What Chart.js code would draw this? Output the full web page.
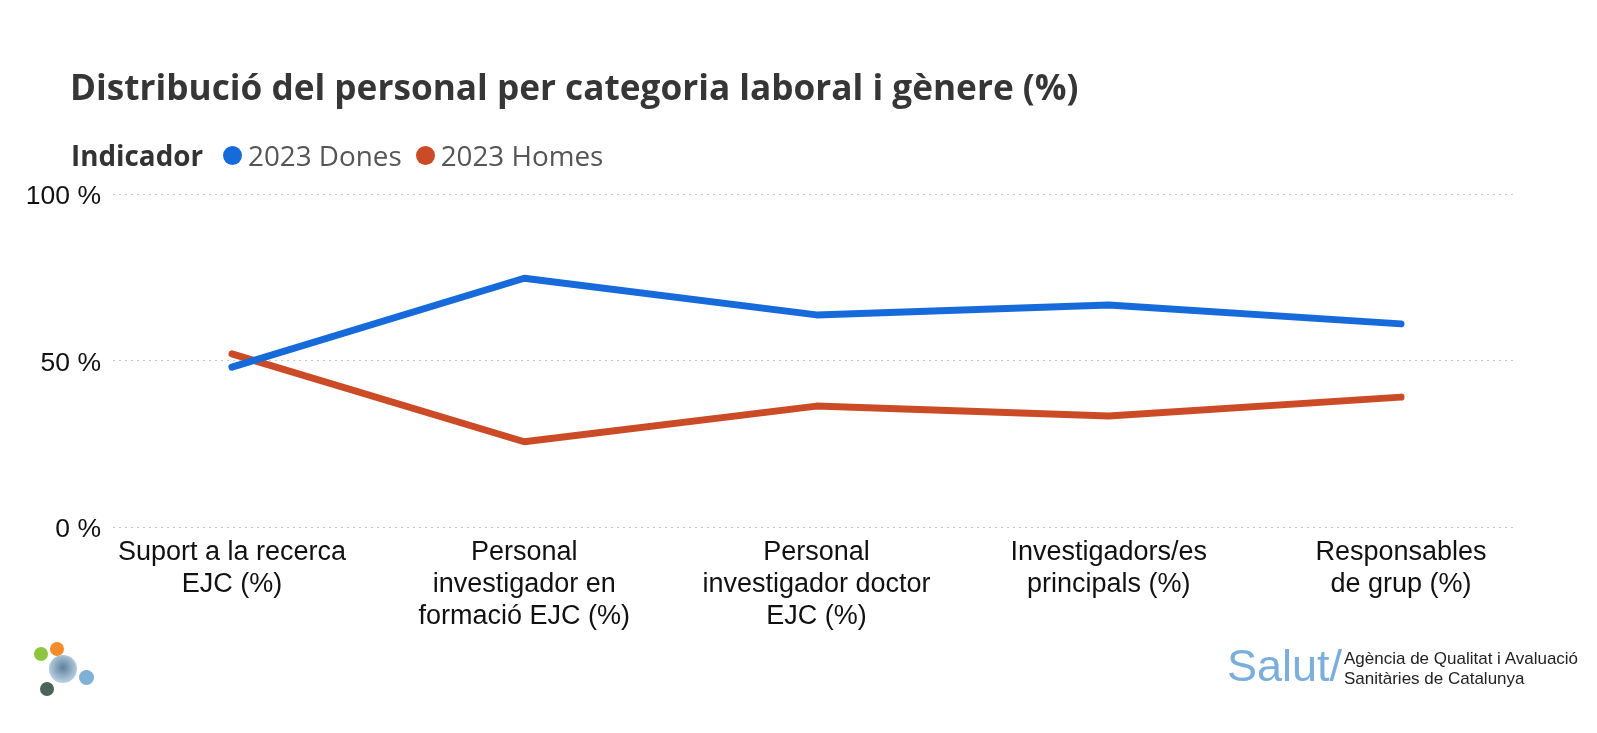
<!DOCTYPE html>
<html lang="ca">
<head>
    <meta charset="UTF-8">
    <title>Distribució del personal</title>
    <style>
        html, body {
            margin: 0;
            padding: 0;
            background: #fff;
        }
        .page {
            position: relative;
            width: 1597px;
            height: 733px;
            overflow: hidden;
        }
        .chart-box {
            position: absolute;
            left: 0;
            top: 0;
            width: 1597px;
            height: 733px;
        }
        h1 {
            position: absolute;
            left: 70px;
            top: 66px;
            margin: 0;
            font-family: 'Open Sans', sans-serif;
            font-weight: 700;
            font-size: 35.2px;
            line-height: 40px;
            color: #363636;
            white-space: nowrap;
        }
        .legend {
            position: absolute;
            left: 71px;
            top: 138px;
            display: flex;
            align-items: center;
            font-family: 'Open Sans', sans-serif;
            font-size: 27.8px;
            line-height: 34px;
            color: #555;
            white-space: nowrap;
        }
        .legend b {
            color: #333;
            margin-right: 20px;
        }
        .legend .dot {
            display: inline-block;
            width: 19px;
            height: 19px;
            border-radius: 50%;
            margin-right: 6px;
        }
        .legend .item {
            display: flex;
            align-items: center;
            margin-right: 14px;
        }
        /* logo abajo a la izquierda */
        .logo span {
            position: absolute;
            border-radius: 50%;
        }
        .salut {
            position: absolute;
            left: 1227px;
            top: 641px;
            font-family: 'Liberation Sans', Arial, sans-serif;
            font-size: 45px;
            line-height: 50px;
            color: #7aaedb;
        }
        .agencia {
            position: absolute;
            left: 1344px;
            top: 649px;
            font-family: 'Liberation Sans', Arial, sans-serif;
            font-size: 17px;
            line-height: 19.5px;
            color: #222;
        }
    </style>
</head>
<body>
<div class="page">
    <div class="chart-box">
        <canvas id="genderChart"></canvas>
    </div>

    <h1>Distribució del personal per categoria laboral i gènere (%)</h1>
    <div class="legend" id="legend"><b>Indicador</b></div>

    <div class="logo">
        <span style="left:34px;top:647px;width:14px;height:14px;background:#8cc63f"></span>
        <span style="left:50px;top:642px;width:14px;height:14px;background:#f58c2a"></span>
        <span style="left:49px;top:655px;width:28px;height:28px;background:radial-gradient(circle at 50% 45%, #5f7f9c, #a9c3d6 60%, #e4eef4)"></span>
        <span style="left:79px;top:670px;width:15px;height:15px;background:#7fb0d6"></span>
        <span style="left:40px;top:682px;width:14px;height:14px;background:#4a6459"></span>
    </div>
    <div class="salut">Salut/</div>
    <div class="agencia">Agència de Qualitat i Avaluació<br>Sanitàries de Catalunya</div>
</div>

<script src="https://cdn.jsdelivr.net/npm/chart.js"></script>
<script>
    // Categories (eix X)
    const categories = [
        ['Suport a la recerca', 'EJC (%)'],
        ['Personal', 'investigador en', 'formació EJC (%)'],
        ['Personal', 'investigador doctor', 'EJC (%)'],
        ['Investigadors/es', 'principals (%)'],
        ['Responsables', 'de grup (%)']
    ];

    // Series
    const seriesNames = ['2023 Dones', '2023 Homes'];
    const dones = [48, 74.7, 63.7, 66.7, 61];
    const homes = [52, 25.6, 36.3, 33.3, 39];
    const seriesColors = ['#166ada', '#cb4b26'];

    // Ticks eix Y
    const yTicks = [0, 50, 100];

    const toPoints = arr => arr.map((v, i) => ({ x: i, y: v }));

    // Llegenda HTML
    const legendEl = document.getElementById('legend');
    seriesNames.forEach((name, i) => {
        const item = document.createElement('span');
        item.className = 'item';
        item.innerHTML = '<span class="dot" style="background:' + seriesColors[i] + '"></span>' + name;
        legendEl.appendChild(item);
    });

    const lineStyle = color => ({
        borderColor: color,
        backgroundColor: color,
        borderWidth: 7,
        borderCapStyle: 'round',
        borderJoinStyle: 'round',
        pointRadius: 0,
        tension: 0
    });

    const ctx = document.getElementById('genderChart');
    const genderChart = new Chart(ctx, {
        type: 'line',
        data: {
            datasets: [
                Object.assign({ label: seriesNames[0], data: toPoints(dones) }, lineStyle(seriesColors[0])),
                Object.assign({ label: seriesNames[1], data: toPoints(homes) }, lineStyle(seriesColors[1]))
            ]
        },
        options: {
            responsive: true,
            maintainAspectRatio: false,
            animation: false,
            layout: {
                padding: { top: 194, right: 82, bottom: 0, left: 0 }
            },
            plugins: {
                legend: { display: false },
                tooltip: { enabled: false }
            },
            scales: {
                x: {
                    type: 'linear',
                    min: -0.407,
                    max: 4.39,
                    grid: { display: false, drawTicks: false },
                    border: { display: false },
                    afterFit: scale => { scale.height = 206; },
                    afterBuildTicks: scale => {
                        scale.ticks = categories.map((c, i) => ({ value: i }));
                    },
                    ticks: {
                        autoSkip: false,
                        maxRotation: 0,
                        padding: 9,
                        color: '#111',
                        font: { family: "'Liberation Sans', Arial, sans-serif", size: 27, lineHeight: 1.2 },
                        callback: value => categories[value] || ''
                    }
                },
                y: {
                    min: 0,
                    max: 100,
                    grid: {
                        color: '#c8c8c8',
                        lineWidth: 1,
                        drawTicks: false
                    },
                    border: { display: false, dash: [2, 4] },
                    afterFit: scale => { scale.width = 113; },
                    afterBuildTicks: scale => {
                        scale.ticks = yTicks.map(v => ({ value: v }));
                    },
                    ticks: {
                        padding: 12,
                        labelOffset: 3,
                        color: '#111',
                        font: { family: "'Liberation Sans', Arial, sans-serif", size: 26.5 },
                        callback: value => value + ' %'
                    }
                }
            }
        }
    });
</script>
</body>
</html>
